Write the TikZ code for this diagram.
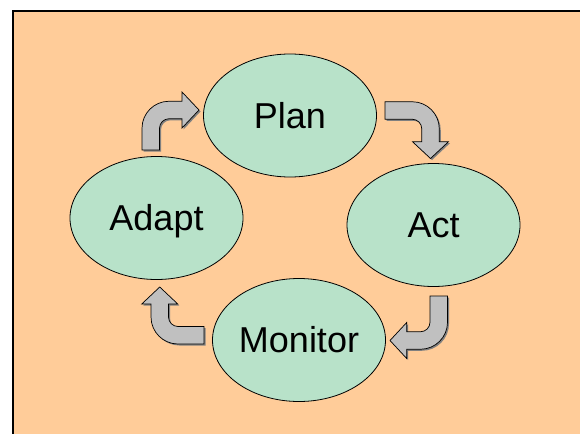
\documentclass[tikz,border=0pt]{standalone}
\usepackage{fontspec}
\setmainfont{Liberation Sans}
\usetikzlibrary{shapes.geometric}
\definecolor{peach}{RGB}{255,204,153}
\definecolor{mint}{RGB}{184,226,201}
\definecolor{arrowgray}{RGB}{192,192,192}
\definecolor{shadowgray}{RGB}{128,128,128}
% Adapt -> Plan
\newcommand\bentOne[1]{\path[#1] (142,150) -- (142,128.25) .. controls (142,113.35) and (154.1,101.25) .. (169,101.25) -- (182,101.25) -- (182,92) -- (199,110) -- (182,128) -- (182,118.75) -- (169,118.75) .. controls (163.76,118.75) and (159.5,123.01) .. (159.5,128.25) -- (159.5,150) -- cycle;}
% Plan -> Act
\newcommand\bentTwo[1]{\path[#1] (385,101.75) -- (412.25,101.75) .. controls (427.15,101.75) and (439.25,113.85) .. (439.25,128.75) -- (439.25,141.7) -- (448.5,141.7) -- (430.5,158.5) -- (412.5,141.7) -- (421.75,141.7) -- (421.75,128.75) .. controls (421.75,123.5) and (417.5,119.25) .. (412.25,119.25) -- (385,119.25) -- cycle;}
% Act -> Monitor
\newcommand\bentThree[1]{\path[#1] (447.5,296) -- (447.5,322.25) .. controls (447.5,337.15) and (435.4,349.25) .. (420.5,349.25) -- (406.7,349.25) -- (406.7,358.5) -- (390,340.5) -- (406.7,322.5) -- (406.7,331.75) -- (420.5,331.75) .. controls (425.74,331.75) and (430,327.49) .. (430,322.25) -- (430,296) -- cycle;}
% Monitor -> Adapt
\newcommand\bentFour[1]{\path[#1] (204,344) -- (178,344) .. controls (163.1,344) and (151,331.9) .. (151,317) -- (151,304) -- (141.75,304) -- (159.75,287) -- (177.75,304) -- (168.5,304) -- (168.5,317) .. controls (168.5,322.24) and (172.76,326.5) .. (178,326.5) -- (204,326.5) -- cycle;}
\begin{document}
\begin{tikzpicture}[x=1pt,y=-1pt,
  stage/.style={ellipse, draw=black, line width=0.8pt, fill=mint,
    minimum width=173pt, minimum height=123pt, inner sep=0pt,
    font=\fontsize{36}{40}\selectfont, text height=25.8pt, text depth=0pt},
  barrow/.style={fill=arrowgray, draw=black, line width=0.7pt, line join=miter},
  bshadow/.style={fill=shadowgray, shift={(1.5,1.5)}}]
\useasboundingbox (0,0) rectangle (580,433);
\clip (0,0) rectangle (580,433);
\fill[white] (0,0) rectangle (580,433);
\draw[fill=peach, line width=2pt] (13,11) rectangle (595,450);
% arrows
\bentOne{bshadow}\bentOne{barrow}
\bentTwo{bshadow}\bentTwo{barrow}
\bentThree{bshadow}\bentThree{barrow}
\bentFour{bshadow}\bentFour{barrow}
% stages
\node[stage] (plan) at (290,115.5) {Plan};
\node[stage] (act) at (433.5,225) {Act};
\node[stage] (adapt) at (156.5,218) {Adapt};
\node[stage] (monitor) at (299,340) {Monitor};
\end{tikzpicture}
\end{document}
